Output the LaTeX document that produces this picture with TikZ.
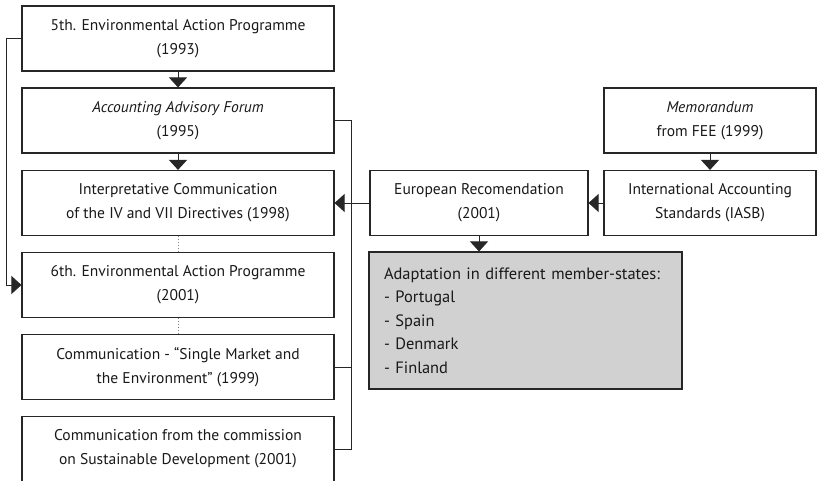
\documentclass[tikz,border=0pt]{standalone}
\usepackage{fontspec}
\setmainfont{PT Sans}
\usetikzlibrary{arrows.meta}
\begin{document}
\begin{tikzpicture}[x=1bp,y=-1bp,
  box/.style={draw=black!85,line width=1.1bp,fill=white,minimum height=65bp,
    align=center,inner sep=0pt,text=black!90,font=\fontsize{15.6}{24}\selectfont},
  wide/.style={box,minimum width=312bp},
  link/.style={draw=black!85,line width=0.9bp},
  tip/.style={-{Triangle[width=18bp,length=10bp]}}]
  \useasboundingbox (0,0) rectangle (818,481);
  \clip (0,0) rectangle (818,481);
  \node[wide] (ap5) at (178,38.5) {5th. Environmental Action Programme\\(1993)};
  \node[wide] (aaf) at (178,120.5) {\textit{Accounting Advisory Forum}\\(1995)};
  \node[wide] (ic)  at (178,203) {Interpretative Communication\\of the IV and VII Directives (1998)};
  \node[wide] (ap6) at (178,285) {6th. Environmental Action Programme\\(2001)};
  \node[wide] (sm)  at (178,367) {Communication - “Single Market and\\the Environment” (1999)};
  \node[wide] (sd)  at (178,449) {Communication from the commission\\on Sustainable Development (2001)};
  \node[box,minimum width=218bp] (er)  at (479,203) {European Recomendation\\(2001)};
  \node[box,minimum width=212bp] (ias) at (710,203) {International Accounting\\Standards (IASB)};
  \node[box,minimum width=212bp] (fee) at (710,120.5) {\textit{Memorandum}\\from FEE (1999)};
  \node[box,fill=black!18,minimum width=313bp,minimum height=137bp,
    align=left,text width=283bp,font=\fontsize{16.5}{23.5}\selectfont] (ms) at (525.5,320.5)
    {Adaptation in different member-states:\\- Portugal\\- Spain\\- Denmark\\- Finland};
  \coordinate (lrail) at (6,0);
  \coordinate (rrail) at (351,0);
  \draw[link,tip] (ap5) -- (aaf);
  \draw[link,tip] (aaf) -- (ic);
  \draw[link,dotted,gray] (ic) -- (ap6);
  \draw[link,dotted,gray] (ap6) -- (sm);
  \draw[link,tip] (fee) -- (ias);
  \draw[link,tip] (ias) -- (er);
  \draw[link,tip] (er) -- (ic);
  \draw[link,tip] (er.south) -- (er.south |- ms.north);
  \draw[link,tip] (ap5.west) -- (ap5.west -| lrail) |- (ap6.west);
  \draw[link] (aaf.east) -- (aaf.east -| rrail) |- (sd.east);
  \draw[link] (sm.east) -- (sm.east -| rrail);
\end{tikzpicture}
\end{document}
